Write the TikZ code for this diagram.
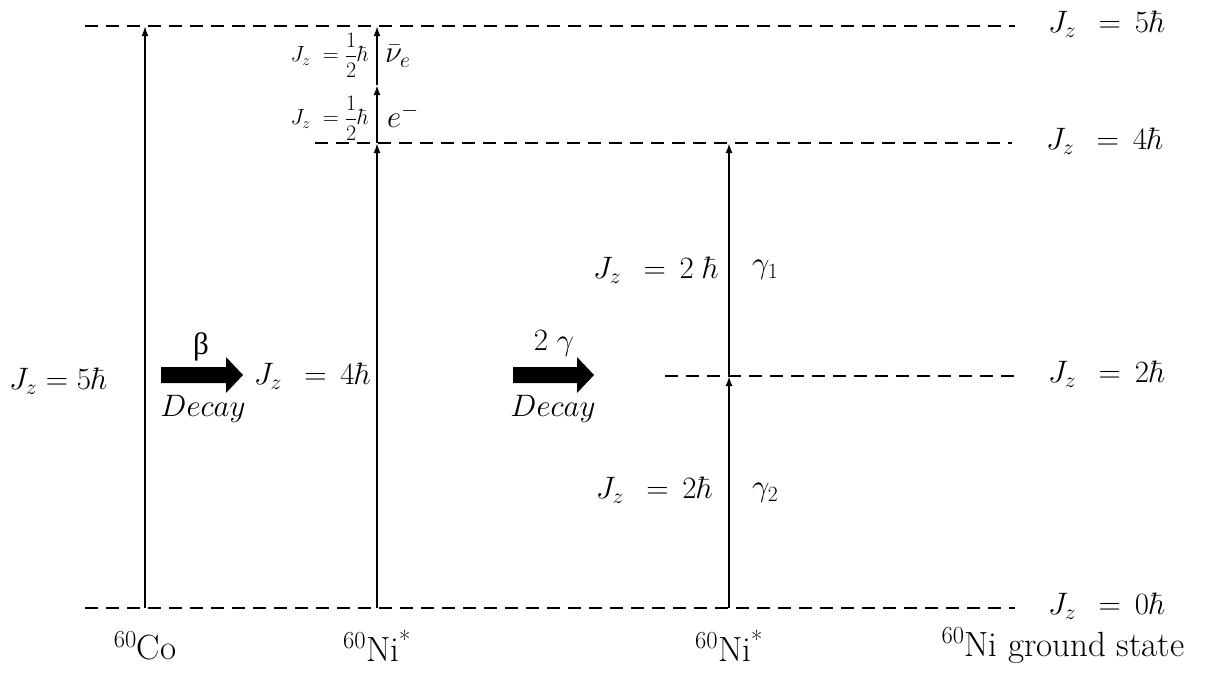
\RequirePackage{fix-cm}
\documentclass[tikz,border=0pt]{standalone}
\usepackage{fontspec}
\newfontfamily\grk{Liberation Serif}
\usetikzlibrary{arrows.meta}
\begin{document}
\begin{tikzpicture}[x=1pt,y=-1pt,
  lvl/.style={line width=2.4pt, dash pattern=on 13pt off 8pt},
  trans/.style={line width=2pt,-{Latex[length=10pt,width=7pt]}},
  big/.style={font=\fontsize{31}{35}\selectfont, inner sep=0pt},
  mid/.style={font=\fontsize{31}{35}\selectfont, inner sep=0pt},
  small/.style={font=\fontsize{22}{25}\selectfont, inner sep=0pt},
  bot/.style={font=\fontsize{35}{40}\selectfont, inner sep=0pt},
  fat/.style={fill=black}]
\useasboundingbox (0,0) rectangle (1222,672);
% level coordinates
\coordinate (l5a) at (85,26);   \coordinate (l5b) at (1015,26);
\coordinate (l4a) at (315,143); \coordinate (l4b) at (1012,143);
\coordinate (l2a) at (665,376); \coordinate (l2b) at (1015,376);
\coordinate (l0a) at (85,608);  \coordinate (l0b) at (1015,608);
\draw[lvl] (l5a) -- (l5b);
\draw[lvl] (l4a) -- (l4b);
\draw[lvl] (l2a) -- (l2b);
\draw[lvl] (l0a) -- (l0b);
% transition points
\coordinate (co0) at (145,608); \coordinate (co5) at (145,26);
\coordinate (ni0) at (377,608); \coordinate (ni4) at (377,143);
\coordinate (nie) at (377,85);  \coordinate (ni5) at (377,26);
\coordinate (g0) at (729,608);  \coordinate (g2) at (729,376);
\coordinate (g4) at (729,143);
\draw[trans] (co0) -- (co5);
\draw[trans] (ni0) -- (ni4);
\draw[trans] (ni4) -- (nie);
\draw[trans] (nie) -- (ni5);
\draw[trans] (g0) -- (g2);
\draw[trans] (g2) -- (g4);
% right labels
\node[big, anchor=west] (r5) at (1048,24) {$J_z\;\,=\,5\hbar$};
\node[big, anchor=west] (r4) at (1046,141) {$J_z\;\,=\,4\hbar$};
\node[big, anchor=west] (r2) at (1048,374) {$J_z\;\,=\,2\hbar$};
\node[big, anchor=west] (r0) at (1048,606) {$J_z\;\,=\,0\hbar$};
% left labels
\node[big, anchor=west] (lco) at (9,381) {$J_z = 5\hbar$};
\node[big, anchor=east] (lni) at (371,376) {$J_z\;\,=\,4\hbar$};
% beta decay arrow
\fill[fat] (161,367) -- (226,367) -- (226,357) -- (243,375) -- (226,393) -- (226,383) -- (161,383) -- cycle;
\node[big] (beta) at (201,347) {\grk β};
\node[big] (dec1) at (203,409) {$Decay$};
% gamma decay arrow
\fill[fat] (513,367) -- (577,367) -- (577,357) -- (594,375) -- (577,393) -- (577,383) -- (513,383) -- cycle;
\node[big] (gam) at (554,344) {$2\;\gamma$};
\node[big] (dec2) at (553,409) {$Decay$};
% gamma labels
\node[big, anchor=east] (jg1) at (719,270) {$J_z\;\,=\,2\;\hbar$};
\node[big, anchor=west] (g1) at (752,270) {$\gamma_1$};
\node[big, anchor=east] (jg2) at (713,490) {$J_z\;\,=\,2\hbar$};
\node[big, anchor=west] (g2l) at (752,493) {$\gamma_2$};
% small labels near beta
\node[small, anchor=east] (jnu) at (369,55) {$\displaystyle J_z\;=\frac{1}{2}\hbar$};
\node[mid, anchor=west] (nu) at (385,56) {$\bar{\nu}_e$};
\node[small, anchor=east] (je) at (369,118) {$\displaystyle J_z\;=\frac{1}{2}\hbar$};
\node[mid, anchor=west] (el) at (387,116) {$e^-$};
% bottom labels
\node[bot] (bco) at (145,646) {$^{60}$Co};
\node[bot] (bni1) at (377,646) {$^{60}$Ni\textsuperscript{*}};
\node[bot] (bni2) at (729,646) {$^{60}$Ni\textsuperscript{*}};
\node[bot] (bgs) at (1063,646) {$^{60}$Ni ground state};
\end{tikzpicture}
\end{document}
